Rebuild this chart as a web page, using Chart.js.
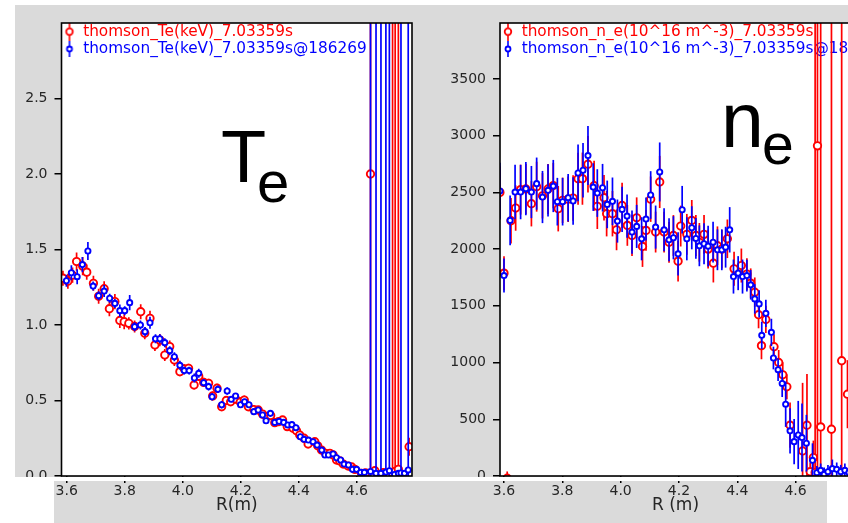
<!DOCTYPE html>
<html>
<head>
<meta charset="utf-8">
<script src="https://cdn.jsdelivr.net/npm/chart.js@4.4.0/dist/chart.umd.min.js"></script>
<style>
  html, body { margin: 0; padding: 0; background: #fff; }
  body { width: 848px; height: 523px; position: relative; overflow: hidden; }
  .bg { position: absolute; background: #dadada; }
  .cut { position: absolute; background: #fff; z-index: 5; }
  canvas { position: absolute; z-index: 2; }
  .big { position: absolute; font-family: 'Liberation Sans', Arial, sans-serif; line-height: 1; color: #000; z-index: 3; white-space: nowrap; }
</style>
</head>
<body>
<div class="bg" style="left:15px;top:5px;width:833px;height:472px"></div>
<div class="bg" style="left:54px;top:481px;width:773px;height:42px"></div>
<canvas id="chartTe" width="409" height="501" style="left:15px;top:22px"></canvas>
<canvas id="chartNe" width="440" height="501" style="left:424px;top:22px"></canvas>
<div class="cut" style="left:0;top:477px;width:848px;height:4px"></div>
<div class="big" style="left:221px;top:120px;font-size:74px">T</div>
<div class="big" style="left:257px;top:153px;font-size:58px">e</div>
<div class="big" style="left:721px;top:82px;font-size:77px">n</div>
<div class="big" style="left:762px;top:116px;font-size:57px">e</div>
<script>
// Thomson scattering profiles at 7.03359s (red) and the @186269 overlay (blue)

const RED = '#ff0000';
const BLUE = '#0000ff';
const TICK_COLOR = '#262626';
const FONT = "'DejaVu Sans', Verdana, sans-serif";
const BIG = 99999;   // error bars that run off the plot

const rTicks = [3.6, 3.8, 4.0, 4.2, 4.4, 4.6];
const teTicks = [0, 0.5, 1.0, 1.5, 2.0, 2.5];
const neTicks = [0, 500, 1000, 1500, 2000, 2500, 3000, 3500];

// ---- Te (keV) ----
const teR_red = [3.587,3.604,3.620,3.634,3.655,3.669,3.692,3.710,3.729,3.747,
  3.766,3.783,3.798,3.814,3.834,3.855,3.869,3.887,3.904,3.921,
  3.938,3.955,3.971,3.990,4.005,4.020,4.039,4.055,4.072,4.089,
  4.103,4.118,4.134,4.150,4.165,4.182,4.198,4.212,4.226,4.245,
  4.260,4.275,4.289,4.303,4.317,4.330,4.344,4.360,4.380,4.392,
  4.403,4.418,4.432,4.455,4.465,4.478,4.492,4.507,4.518,4.530,
  4.541,4.553,4.570,4.582,4.593,4.616,4.630,4.647,4.662,4.691,
  4.723,4.732,4.743,4.780];
const te_red = [1.31,1.29,1.33,1.42,1.39,1.35,1.276,1.19,1.24,1.108,
  1.155,1.03,1.022,1.011,0.99,1.088,0.945,1.044,0.868,0.90,
  0.801,0.857,0.768,0.691,0.71,0.713,0.603,0.66,0.62,0.614,
  0.53,0.581,0.459,0.50,0.492,0.51,0.49,0.503,0.459,0.44,
  0.437,0.41,0.393,0.40,0.353,0.36,0.371,0.327,0.316,0.30,
  0.271,0.25,0.212,0.227,0.20,0.172,0.15,0.15,0.14,0.106,
  0.10,0.079,0.066,0.06,0.044,0.018,0.02,2.0,0.035,0.022,
  0.02,0.03,0.044,0.194];
const teErr_red = [.05,.05,.05,.06,.06,.05,.05,.05,.05,.05,
  .05,.05,.05,.04,.04,.05,.04,.05,.04,.04,
  .04,.04,.04,.03,.03,.03,.03,.03,.03,.03,
  .03,.03,.03,.03,.03,.03,.03,.03,.03,.03,
  .025,.025,.025,.025,.025,.025,.025,.025,.025,.025,
  .025,.025,.025,.025,.025,.025,.025,.025,.025,.025,
  .02,.02,.02,.02,.02,.02,.02,BIG,.03,.03,
  BIG,BIG,BIG,.06];

const teR_blue = [3.599,3.616,3.636,3.654,3.673,3.691,3.710,3.729,3.748,3.766,
  3.783,3.800,3.817,3.834,3.854,3.870,3.887,3.906,3.921,3.938,
  3.955,3.971,3.990,4.005,4.022,4.040,4.055,4.072,4.089,4.101,
  4.121,4.134,4.153,4.167,4.182,4.199,4.213,4.228,4.245,4.260,
  4.275,4.287,4.302,4.317,4.332,4.348,4.362,4.376,4.390,4.405,
  4.418,4.433,4.449,4.463,4.479,4.490,4.502,4.518,4.530,4.544,
  4.556,4.571,4.585,4.599,4.613,4.626,4.647,4.666,4.683,4.700,
  4.712,4.730,4.743,4.752,4.764,4.777];
const te_blue = [1.293,1.346,1.32,1.40,1.49,1.258,1.194,1.225,1.177,1.143,
  1.095,1.095,1.148,0.989,1.0,0.956,1.015,0.909,0.909,0.883,
  0.830,0.790,0.733,0.698,0.698,0.649,0.680,0.618,0.592,0.525,
  0.574,0.472,0.563,0.508,0.530,0.472,0.492,0.472,0.426,0.437,
  0.404,0.366,0.415,0.355,0.362,0.355,0.338,0.340,0.320,0.260,
  0.243,0.238,0.227,0.205,0.172,0.139,0.139,0.146,0.121,0.106,
  0.079,0.073,0.044,0.044,0.024,0.024,0.030,0.018,0.018,0.026,
  0.035,0.01,0.018,0.02,0.018,0.04];
const teErr_blue = [.04,.05,.05,.05,.06,.03,.03,.04,.03,.03,
  .04,.03,.05,.03,.03,.03,.04,.03,.03,.03,
  .03,.03,.03,.025,.025,.03,.03,.025,.025,.025,
  .025,.025,.025,.02,.02,.02,.02,.02,.02,.02,
  .02,.02,.02,.02,.02,.02,.02,.02,.02,.02,
  .02,.02,.02,.02,.02,.02,.02,.02,.02,.02,
  .02,.02,.02,.02,.02,.02,BIG,BIG,BIG,BIG,
  BIG,.02,.02,BIG,.02,BIG];

// ---- n_e (10^16 m^-3) ----
const neR_red = [3.586,3.600,3.611,3.624,3.640,3.657,3.675,3.694,3.712,3.732,
  3.751,3.769,3.786,3.801,3.820,3.837,3.854,3.869,3.888,3.909,
  3.920,3.943,3.952,3.972,3.986,4.005,4.023,4.039,4.055,4.075,
  4.087,4.103,4.120,4.134,4.149,4.166,4.181,4.197,4.206,4.227,
  4.244,4.258,4.270,4.286,4.300,4.318,4.332,4.347,4.366,4.389,
  4.414,4.433,4.446,4.460,4.473,4.483,4.498,4.526,4.542,4.556,
  4.570,4.581,4.624,4.639,4.650,4.661,4.667,4.675,4.686,4.723,
  4.758,4.778];
const ne_red = [2500,1788,-20,2250,2362,2524,2530,2400,2550,2470,
  2530,2560,2356,2430,2440,2450,2620,2621,2748,2559,
  2377,2453,2312,2312,2170,2385,2209,2120,2276,2023,
  2165,2440,2150,2592,2150,2060,2120,1894,2203,2130,
  2253,2120,2060,2130,2000,1876,2030,2000,2091,1826,
  1855,1780,1700,1620,1422,1149,1380,1140,1001,892,
  786,448,221,448,38,162,30,2910,433,412,
  1016,721];
const neErr_red = [230,150,60,200,200,220,220,200,220,200,
  220,200,200,200,200,200,230,230,250,220,
  200,200,200,200,180,200,180,180,180,180,
  180,200,180,230,180,180,180,180,180,180,
  180,180,170,170,170,170,170,170,170,150,
  150,140,130,130,120,120,120,110,110,110,
  110,200,600,450,80,150,BIG,BIG,BIG,BIG,
  BIG,300];

const neR_blue = [3.586,3.600,3.621,3.638,3.657,3.675,3.694,3.712,3.732,3.751,
  3.769,3.783,3.801,3.820,3.837,3.854,3.871,3.888,3.906,3.920,
  3.938,3.954,3.972,3.989,4.005,4.022,4.039,4.055,4.072,4.087,
  4.103,4.120,4.134,4.149,4.166,4.181,4.197,4.211,4.227,4.244,
  4.258,4.270,4.286,4.300,4.317,4.332,4.347,4.360,4.374,4.387,
  4.403,4.418,4.433,4.446,4.460,4.475,4.484,4.498,4.517,4.524,
  4.540,4.554,4.566,4.581,4.595,4.609,4.622,4.637,4.658,4.673,
  4.686,4.698,4.711,4.726,4.741,4.755,4.769,4.783];
const ne_blue = [2512,1767,2253,2503,2503,2533,2503,2577,2459,2518,
  2556,2418,2418,2453,2424,2671,2695,2824,2547,2494,
  2541,2394,2421,2247,2350,2291,2150,2200,2091,2265,
  2477,2194,2680,2170,2082,2100,1958,2347,2091,2188,
  2094,2029,2047,2026,2061,1994,1994,2017,2170,1758,
  1788,1758,1767,1685,1561,1517,1240,1434,1266,1040,
  937,816,633,398,303,362,339,289,138,29,
  50,15,38,65,59,38,50,30];
const neErr_blue = [250,150,220,240,240,235,230,230,230,230,
  230,210,210,210,210,250,240,260,210,210,
  210,210,210,190,200,190,190,190,190,190,
  210,190,260,190,190,190,190,210,190,190,
  180,180,180,180,180,180,180,180,200,150,
  150,150,140,130,130,120,120,120,120,100,
  100,120,200,200,200,300,300,250,150,60,
  60,60,60,80,60,60,60,250];

// ---- helpers ----
function points(rs, vs) {
    return rs.map((r, i) => ({ x: r, y: vs[i] }));
}

function errBars(rs, vs, es) {
    return rs.map((r, i) => ({ x: r, y: [vs[i] - es[i], vs[i] + es[i]] }));
}

// marker with a vertical error stroke, used as the legend symbol
function glyph(color, r, half) {
    const c = document.createElement('canvas');
    c.width = 12; c.height = half * 2;
    const g = c.getContext('2d');
    g.strokeStyle = color;
    g.lineWidth = 1.6;
    g.beginPath(); g.moveTo(6, 0); g.lineTo(6, half * 2); g.stroke();
    g.fillStyle = '#fff';
    g.lineWidth = 1.8;
    g.beginPath(); g.arc(6, half, r, 0, Math.PI * 2); g.fill(); g.stroke();
    return c;
}

const plotFrame = {
    id: 'plotFrame',
    beforeDraw(chart) {
        const { ctx, chartArea: a } = chart;
        ctx.save();
        ctx.fillStyle = '#fff';
        ctx.fillRect(a.left, a.top, a.right - a.left, a.bottom - a.top);
        ctx.restore();
    },
    afterDatasetsDraw(chart) {
        const { ctx, chartArea: a } = chart;
        ctx.save();
        ctx.strokeStyle = '#000';
        ctx.lineWidth = 1.6;
        ctx.strokeRect(a.left, a.top, a.right - a.left, a.bottom - a.top);
        ctx.restore();
    },
};

const fixedTicks = list => sc => { sc.ticks = list.map(v => ({ value: v })); };

function renderProfile(canvasId, s) {
    const ctx = document.getElementById(canvasId);
    const glyphs = { 1: glyph(RED, 3.3, 9), 3: glyph(BLUE, 2.5, 8) };
    const bar = (color, data, order) => ({
        type: 'bar',
        data,
        backgroundColor: color,
        borderWidth: 0,
        barThickness: 1.7,
        inflateAmount: 0,
        grouped: false,
        order,
        clip: 0,
    });
    const marker = (color, label, data, radius, order) => ({
        type: 'scatter',
        label,
        data,
        pointBorderColor: color,
        pointBackgroundColor: '#fff',
        pointRadius: radius,
        pointBorderWidth: 1.9,
        order,
        clip: 0,
    });
    return new Chart(ctx, {
        type: 'scatter',
        data: {
            datasets: [
                bar(RED, errBars(s.rRed, s.vRed, s.eRed), 4),
                marker(RED, s.labels[0], points(s.rRed, s.vRed), 3.7, 3),
                bar(BLUE, errBars(s.rBlue, s.vBlue, s.eBlue), 2),
                marker(BLUE, s.labels[1], points(s.rBlue, s.vBlue), 2.6, 1),
            ],
        },
        options: {
            responsive: false,
            animation: false,
            events: [],
            layout: { autoPadding: false, padding: s.padding },
            plugins: {
                tooltip: { enabled: false },
                legend: {
                    position: 'chartArea',
                    align: 'start',
                    labels: {
                        usePointStyle: true,
                        pointStyleWidth: 12,
                        padding: 2,
                        font: { family: FONT, size: 15.3 },
                        filter: (item, data) => data.datasets[item.datasetIndex].type === 'scatter',
                        sort: (a, b) => a.datasetIndex - b.datasetIndex,
                        generateLabels(chart) {
                            const items = Chart.defaults.plugins.legend.labels.generateLabels(chart);
                            items.forEach(it => {
                                it.fontColor = it.datasetIndex === 1 ? RED : BLUE;
                                it.pointStyle = glyphs[it.datasetIndex] || 'circle';
                            });
                            return items;
                        },
                    },
                },
            },
            scales: {
                x: {
                    type: 'linear',
                    min: s.xMin,
                    max: s.xMax,
                    offset: false,
                    border: { display: false },
                    grid: { offset: false, drawOnChartArea: false, tickLength: 7, color: '#000', lineWidth: 1.5 },
                    afterBuildTicks: fixedTicks(rTicks),
                    ticks: {
                        maxRotation: 0,
                        padding: 0,
                        color: TICK_COLOR,
                        font: { family: FONT, size: 14 },
                        callback: v => v.toFixed(1),
                    },
                    title: {
                        display: true,
                        text: s.xTitle,
                        color: TICK_COLOR,
                        font: { family: FONT, size: 17 },
                        padding: { top: 0, bottom: 7 },
                    },
                    afterFit: sc => { sc.height = 47; sc.paddingLeft = 0; sc.paddingRight = 0; },
                },
                y: {
                    type: 'linear',
                    min: 0,
                    max: s.yMax,
                    border: { display: false },
                    grid: { drawOnChartArea: false, tickLength: 7, color: '#000', lineWidth: 1.5 },
                    afterBuildTicks: fixedTicks(s.yTicks),
                    ticks: {
                        padding: 7,
                        color: TICK_COLOR,
                        font: { family: FONT, size: 14 },
                        callback: s.yFormat,
                    },
                    afterFit: sc => { sc.width = s.yWidth; sc.paddingTop = 0; sc.paddingBottom = 0; },
                },
            },
        },
        plugins: [plotFrame],
    });
}

renderProfile('chartTe', {
    rRed: teR_red, vRed: te_red, eRed: teErr_red,
    rBlue: teR_blue, vBlue: te_blue, eBlue: teErr_blue,
    labels: ['thomson_Te(keV)_7.03359s', 'thomson_Te(keV)_7.03359s@186269'],
    xMin: 3.582, xMax: 4.79,
    yMax: 3.0, yTicks: teTicks, yFormat: v => v.toFixed(1),
    yWidth: 46.5,
    xTitle: 'R(m)',
    padding: { top: 1, right: 12, left: 0, bottom: 0 },
});

renderProfile('chartNe', {
    rRed: neR_red, vRed: ne_red, eRed: neErr_red,
    rBlue: neR_blue, vBlue: ne_blue, eBlue: neErr_blue,
    labels: ['thomson_n_e(10^16 m^-3)_7.03359s', 'thomson_n_e(10^16 m^-3)_7.03359s@186269'],
    xMin: 3.5863, xMax: 4.79,
    yMax: 3993, yTicks: neTicks, yFormat: v => String(Math.round(v)),
    yWidth: 76,
    xTitle: 'R (m)',
    padding: { top: 1, right: 13, left: 0, bottom: 0 },
});
</script>
</body>
</html>
